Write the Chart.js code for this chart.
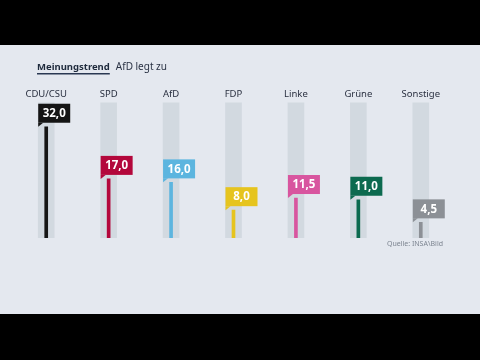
<!DOCTYPE html>
<html>
<head>
<meta charset="utf-8">
<script src="https://cdn.jsdelivr.net/npm/chart.js@4.4.0/dist/chart.umd.min.js"></script>
<style>
  html, body { margin: 0; padding: 0; background: #000; }
  #wrap { width: 480px; height: 360px; }
</style>
</head>
<body>
<div id="wrap"><canvas id="myChart" width="480" height="360"></canvas></div>
<script>
const parteien = ['CDU/CSU', 'SPD', 'AfD', 'FDP', 'Linke', 'Grüne', 'Sonstige'];
const werte = [32.0, 17.0, 16.0, 8.0, 11.5, 11.0, 4.5];
const farben = ['#151515', '#b3073b', '#5cb5df', '#e6c41e', '#d8559f', '#0c6a4f', '#8c9096'];
const skalaMax = 39;
const spur = parteien.map(() => skalaMax);

// hintergrund, titel, quelle
const rahmen = {
    id: 'rahmen',
    beforeDraw(chart) {
        const c = chart.ctx;
        c.save();
        c.fillStyle = '#000';
        c.fillRect(0, 0, chart.width, chart.height);
        c.fillStyle = '#e4e8ef';
        c.fillRect(0, 45, chart.width, 269);
        c.restore();
    },
    afterDraw(chart) {
        const c = chart.ctx;
        c.save();
        c.textBaseline = 'alphabetic';
        c.fillStyle = '#1e2a3c';
        c.font = 'bold 9.5px "Noto Sans"';
        c.fillText('Meinungstrend', 37, 70);
        const w = c.measureText('Meinungstrend').width;
        c.fillStyle = '#2a3852';
        c.fillRect(37, 73, w, 1.5);
        c.fillStyle = '#2a3244';
        c.font = '10px "Noto Sans"';
        c.fillText('AfD legt zu', 37 + w + 6, 70);

        c.fillStyle = '#7d8591';
        c.font = '7px "Noto Sans"';
        c.textAlign = 'right';
        c.fillText('Quelle: INSA\\Bild', 443, 246);
        c.restore();
    }
};

// wertfahnen über den linien
const fahnen = {
    id: 'fahnen',
    afterDatasetsDraw(chart) {
        const c = chart.ctx;
        const meta = chart.getDatasetMeta(1);
        c.save();
        meta.data.forEach((bar, i) => {
            const links = bar.x - 8;
            const unten = bar.y - 4;
            const h = 19, b = 32;
            c.fillStyle = farben[i];
            c.fillRect(links, unten - h, b, h);
            c.beginPath();
            c.moveTo(links, unten);
            c.lineTo(links + 5, unten);
            c.lineTo(links, unten + 4);
            c.closePath();
            c.fill();
            c.fillStyle = '#fff';
            c.font = 'bold 11.5px "Noto Sans"';
            c.textAlign = 'center';
            c.textBaseline = 'middle';
            c.fillText(werte[i].toFixed(1).replace('.', ','), links + b / 2, unten - h / 2 + 0.5);
        });
        c.restore();
    }
};

const ctx = document.getElementById('myChart').getContext('2d');
const myChart = new Chart(ctx, {
    type: 'bar',
    data: {
        labels: parteien,
        datasets: [{
            data: spur,
            backgroundColor: '#d2d9e0',
            barThickness: 16,
            grouped: false,
            order: 2
        }, {
            data: werte,
            backgroundColor: farben,
            barThickness: 3,
            grouped: false,
            order: 1
        }]
    },
    options: {
        responsive: false,
        animation: false,
        layout: { padding: { left: 15, right: 28, top: 87, bottom: 122 } },
        plugins: {
            legend: { display: false },
            tooltip: { enabled: false }
        },
        scales: {
            x: {
                position: 'top',
                grid: { display: false, drawTicks: false },
                border: { display: false },
                ticks: { color: '#2a3040', font: { family: 'Noto Sans', size: 9.5 }, padding: 2 }
            },
            y: {
                display: false,
                min: 0,
                max: skalaMax
            }
        }
    },
    plugins: [rahmen, fahnen]
});
</script>
</body>
</html>
